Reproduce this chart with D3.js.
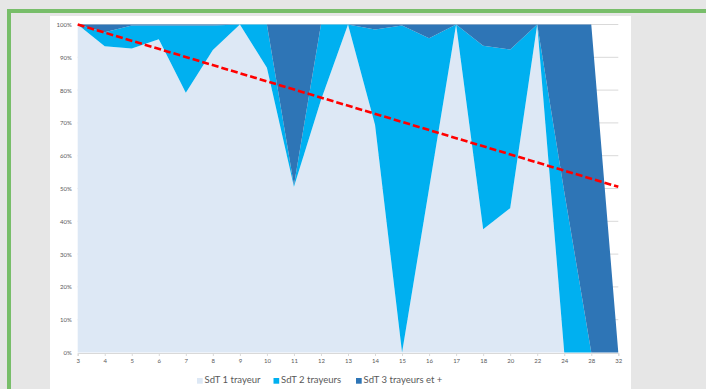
<!DOCTYPE html>
<html>
<head>
<meta charset="utf-8">
<script src="https://cdn.jsdelivr.net/npm/d3@7"></script>
<style>
  html, body { margin: 0; padding: 0; background: #e6e6e6; }
  svg { display: block; }
</style>
</head>
<body>
<svg id="chart" width="706" height="389"></svg>
<script>
// Categories along the x axis
const categories = ["3","4","5","6","7","8","9","10","11","12","13","14","15","16","17","18","20","22","24","28","32"];

// Share (%) of each parlour type per category
const seriesNames = ["SdT 1 trayeur", "SdT 2 trayeurs", "SdT 3 trayeurs et +"];
const s1 = [100, 93.4, 92.7, 95.5, 79.2, 92.2, 100, 86.8, 50.5, 77, 100, 69.4, 0, 50, 100, 37.6, 44, 100, 0, 0, 0];
const s2 = [0, 4.2, 7, 4.2, 20.5, 7.5, 0, 13.2, 0.5, 23, 0, 29.1, 99.7, 45.8, 0, 55.9, 48.4, 0, 49, 0, 0];
const s3 = [0, 2.4, 0.3, 0.3, 0.3, 0.3, 0, 0, 49, 0, 0, 1.5, 0.3, 4.2, 0, 6.5, 7.6, 0, 51, 100, 0];

// Trend line end points (category, %)
const trendCats = ["3", "32"];
const trendValues = [100, 50.5];

// Y ticks
const yTicks = [0, 10, 20, 30, 40, 50, 60, 70, 80, 90, 100];

const colors = ["#dde8f5", "#00b0f0", "#2e75b6"];

const svg = d3.select("#chart");

// Frame and panel
svg.append("rect").attr("x", 0).attr("y", 0).attr("width", 706).attr("height", 389).attr("fill", "#e6e6e6");
svg.append("rect").attr("x", 9).attr("y", 11).attr("width", 720).attr("height", 400)
  .attr("fill", "none").attr("stroke", "#78be6a").attr("stroke-width", 4);
svg.append("rect").attr("x", 50).attr("y", 16).attr("width", 581).attr("height", 380).attr("fill", "#ffffff");

const x = d3.scalePoint().domain(categories).range([77.7, 618.3]);
const y = d3.scaleLinear().domain([0, 100]).range([352.5, 24.5]);

// Gridlines
svg.append("g").selectAll("line").data(yTicks.filter(t => t > 0)).join("line")
  .attr("x1", 77.7).attr("x2", 618.3)
  .attr("y1", d => y(d)).attr("y2", d => y(d))
  .attr("stroke", "#d9d9d9").attr("stroke-width", 1);

// Stacked areas
const rows = categories.map((c, i) => ({ cat: c, a: s1[i], b: s2[i], c3: s3[i] }));
const stack = d3.stack().keys(["a", "b", "c3"]);
const stacked = stack(rows);

const area = d3.area()
  .x(d => x(d.data.cat))
  .y0(d => y(d[0]))
  .y1(d => y(d[1]))
  .curve(d3.curveLinear);

svg.append("g").selectAll("path").data(stacked).join("path")
  .attr("d", area)
  .attr("fill", (d, i) => colors[i]);

// X axis
const xAxis = d3.axisBottom(x).tickSize(3).tickPadding(3);
const gx = svg.append("g").attr("transform", `translate(0,${y(0) + 0.5})`).call(xAxis);
gx.select(".domain").attr("stroke", "#d9d9d9");
gx.selectAll(".tick line").attr("stroke", "#d9d9d9");
gx.selectAll("text").attr("fill", "#595959").attr("font-size", 6).attr("font-family", "Lato, 'Open Sans', sans-serif");

// Y axis labels
const yAxis = d3.axisLeft(y).tickValues(yTicks).tickFormat(d => d + "%").tickSize(0).tickPadding(6);
const gy = svg.append("g").attr("transform", "translate(77.7,0)").call(yAxis);
gy.select(".domain").remove();
gy.selectAll("text").attr("fill", "#595959").attr("font-size", 6).attr("font-family", "Lato, 'Open Sans', sans-serif");

// Trend line
svg.append("path")
  .datum(trendCats.map((c, i) => [c, trendValues[i]]))
  .attr("d", d3.line().x(d => x(d[0])).y(d => y(d[1])))
  .attr("fill", "none").attr("stroke", "#ff0000").attr("stroke-width", 2.6)
  .attr("stroke-dasharray", "7,3");

// Legend
const legendX = [197, 273.5, 356];
const lg = svg.append("g").selectAll("g").data(seriesNames).join("g")
  .attr("transform", (d, i) => `translate(${legendX[i]},378)`);
lg.append("rect").attr("width", 5.7).attr("height", 5.7).attr("fill", (d, i) => colors[i]);
lg.append("text").attr("x", 7.5).attr("y", 3).attr("dominant-baseline", "middle")
  .attr("font-size", 9.5).attr("font-family", "Lato, 'Open Sans', sans-serif").attr("fill", "#595959")
  .text(d => d);
</script>
</body>
</html>
